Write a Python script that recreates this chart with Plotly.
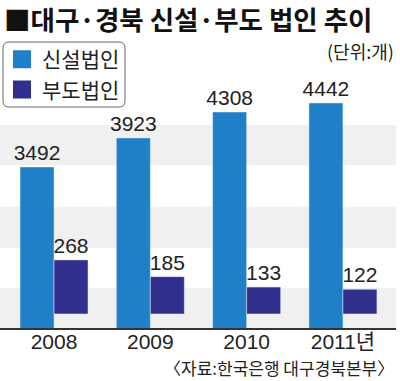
import plotly.graph_objects as go

years = ["2008", "2009", "2010", "2011년"]
new_corp = [3492, 3923, 4308, 4442]
bankrupt = [268, 185, 133, 122]
series_names = ["신설법인", "부도법인"]

title_text = "■대구·경북 신설·부도 법인 추이"
unit_text = "(단위:개)"
source_text = "〈자료:한국은행 대구경북본부〉"

C_NEW = "#1f7fc7"
C_BAD = "#302f8e"
KR = "Noto Sans CJK KR"
NUM = "Liberation Sans, Arial, Noto Sans CJK KR"

fig = go.Figure()
fig.add_trace(go.Bar(
    x=years, y=new_corp, name=series_names[0], marker_color=C_NEW,
    width=0.353, offset=-0.353, yaxis="y",
    text=[str(v) for v in new_corp], textposition="outside", constraintext="none",
    textfont=dict(family=NUM, size=21, color="#222"), cliponaxis=False,
    showlegend=False,
))
fig.add_trace(go.Bar(
    x=years, y=bankrupt, name=series_names[1], marker_color=C_BAD,
    width=0.353, offset=0, yaxis="y2",
    text=[str(v) for v in bankrupt], textposition="outside", constraintext="none",
    textfont=dict(family=NUM, size=21, color="#222"), cliponaxis=False,
    showlegend=False,
))
# legend entries
for nm, col, grp in [(series_names[0], C_NEW, "a"), (series_names[1], C_BAD, "b")]:
    fig.add_trace(go.Scatter(
        x=[None], y=[None], mode="markers", name=nm, legendgroup=grp,
        marker=dict(symbol="square", size=16, color=col, line=dict(color=col, width=2)),
        showlegend=True,
    ))

H = 288
bands = [(288, 328), (207, 248), (125, 165)]
shapes = []
for top, bot in bands:
    shapes.append(dict(type="rect", xref="paper", yref="paper", x0=0, x1=1,
                       y0=(328 - bot) / H, y1=(328 - top) / H,
                       fillcolor="#f0f0f0", line=dict(width=0), layer="below"))
# rounded legend frame
lx0, lx1, ly0, ly1, r = 3 / 396, 125 / 396, (328 - 107) / H, (328 - 42) / H, 6
rx, ry = r / 396, r / H
path = (f"M {lx0+rx},{ly1} L {lx1-rx},{ly1} Q {lx1},{ly1} {lx1},{ly1-ry} "
        f"L {lx1},{ly0+ry} Q {lx1},{ly0} {lx1-rx},{ly0} L {lx0+rx},{ly0} "
        f"Q {lx0},{ly0} {lx0},{ly0+ry} L {lx0},{ly1-ry} Q {lx0},{ly1} {lx0+rx},{ly1} Z")
shapes.append(dict(type="path", xref="paper", yref="paper", path=path,
                   line=dict(color="#666", width=1), fillcolor="white", layer="below"))

annotations = [
    dict(text=title_text, xref="paper", yref="paper", x=2 / 396, y=(328 - 18.5) / H,
         xanchor="left", yanchor="middle", showarrow=False,
         font=dict(family=KR, size=26.5, color="#111", weight="bold")),
    dict(text=unit_text, xref="paper", yref="paper", x=1.0, y=(328 - 51) / H,
         xanchor="right", yanchor="middle", showarrow=False,
         font=dict(family=KR, size=18, color="#222")),
    dict(text=source_text, xref="paper", yref="paper", x=1.0, y=(328 - 367) / H,
         xanchor="right", yanchor="middle", showarrow=False,
         font=dict(family=KR, size=17, color="#222")),
]

fig.update_layout(
    width=400, height=381,
    margin=dict(l=0, r=4, t=40, b=53, pad=0, autoexpand=False),
    paper_bgcolor="white", plot_bgcolor="rgba(0,0,0,0)",
    barmode="overlay",
    xaxis=dict(type="category", range=[-0.561, 3.551], showgrid=False,
               showline=True, linecolor="#333", linewidth=1.5, ticks="",
               automargin=False, ticklabelstandoff=-6,
               tickfont=dict(family=NUM, size=21, color="#222"), fixedrange=True),
    yaxis=dict(range=[1103, 5376], visible=False, showgrid=False, automargin=False),
    yaxis2=dict(range=[-69.8, 1358.8], visible=False, showgrid=False,
                overlaying="y", automargin=False),
    legend=dict(x=2 / 396, y=(328 - 39) / H, xanchor="left", yanchor="top",
                bgcolor="rgba(0,0,0,0)", borderwidth=0,
                font=dict(family=KR, size=21, color="#222"),
                tracegroupgap=0, itemwidth=30),
    shapes=shapes, annotations=annotations, showlegend=True,
)

fig.write_html("out.html", config={"displayModeBar": False},
               post_script="document.body.style.margin='0';document.body.style.overflow='hidden';")
